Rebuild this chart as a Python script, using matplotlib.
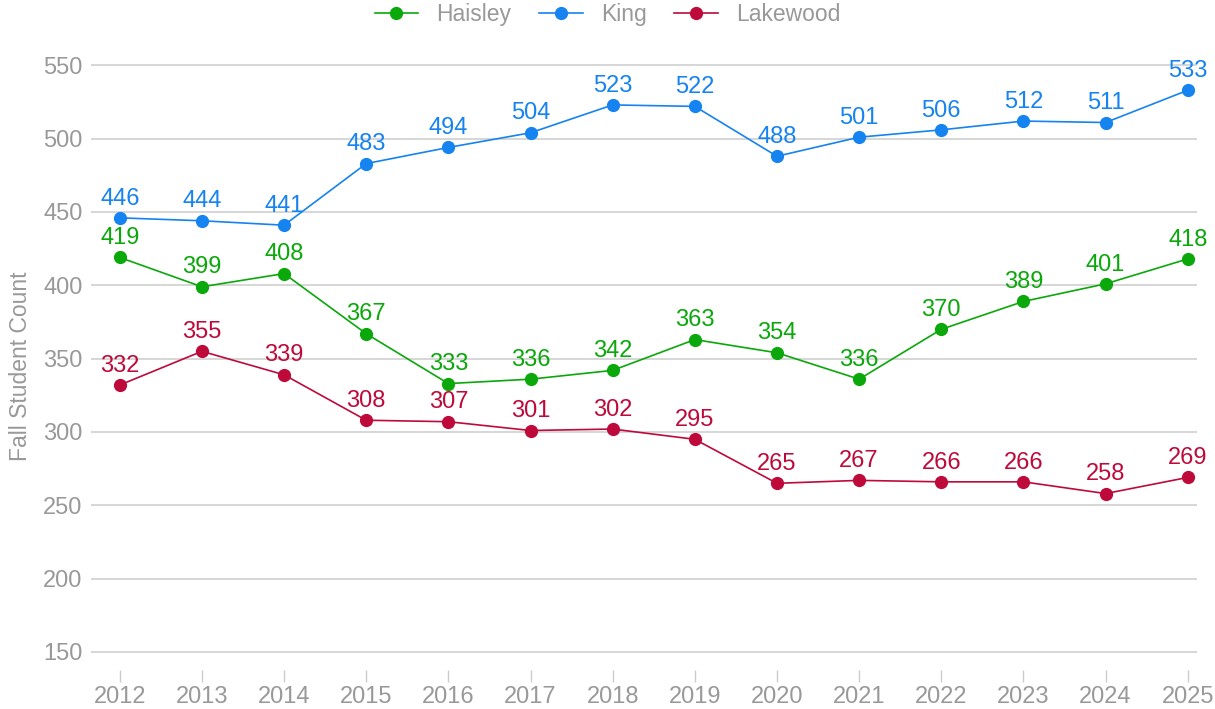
import matplotlib.pyplot as plt
import numpy as np

plt.rcParams['font.family'] = ['Liberation Sans', 'DejaVu Sans']

years = list(range(2012, 2026))
haisley = [419, 399, 408, 367, 333, 336, 342, 363, 354, 336, 370, 389, 401, 418]
king = [446, 444, 441, 483, 494, 504, 523, 522, 488, 501, 506, 512, 511, 533]
lakewood = [332, 355, 339, 308, 307, 301, 302, 295, 265, 267, 266, 266, 258, 269]

series = [('Haisley', haisley, '#0aa80a'),
          ('King', king, '#1583f0'),
          ('Lakewood', lakewood, '#be0a3a')]

grey = '#999999'

fig = plt.figure(figsize=(12.15, 7.09), dpi=100)
ax = fig.add_axes([0.0749, 0.055, 0.9101, 0.857])

for name, vals, col in series:
    ax.plot(years, vals, color=col, lw=1.2, marker='o', ms=8.5, label=name, zorder=3)
    for x, y in zip(years, vals):
        ax.annotate(str(y), (x, y), xytext=(0, 6), textcoords='offset points',
                    ha='center', va='bottom', color=col, fontsize=17, zorder=4)

ax.set_xlim(2011.65, 2025.11)
ax.set_ylim(137.7, 552)
ax.set_yticks(np.arange(150, 551, 50))
ax.set_xticks(years)
ax.grid(axis='y', color='#d0d0d0', lw=1.2)
ax.set_axisbelow(True)
for s in ax.spines.values():
    s.set_visible(False)
ax.tick_params(axis='y', length=0, labelsize=17, labelcolor=grey, pad=6)
ax.tick_params(axis='x', length=8.5, width=1, color='#cccccc', labelsize=17,
               labelcolor=grey, pad=3)
ax.set_ylabel('Fall Student Count', fontsize=16.5, color=grey, labelpad=8)

leg = fig.legend(loc='upper center', bbox_to_anchor=(0.5, 1.025), ncol=3, frameon=False,
                 fontsize=16.5, handlelength=1.9, columnspacing=1.2, handletextpad=0.8)
for t in leg.get_texts():
    t.set_color(grey)

fig.savefig('out.png', dpi=100)
